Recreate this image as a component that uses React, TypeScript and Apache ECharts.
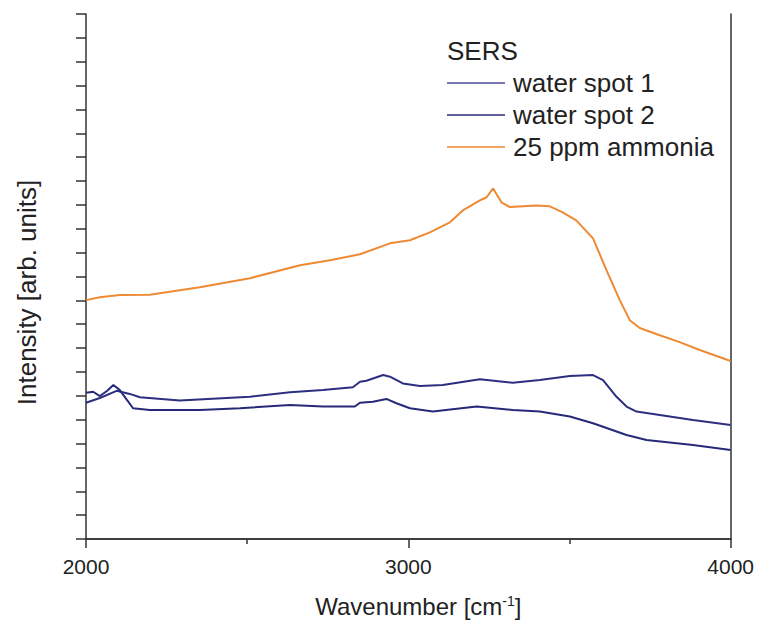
import React, { useEffect, useRef } from "react";
import * as echarts from "echarts";

// Wavenumber [cm^-1] for each read point
const spot1X = [2000, 2043, 2095, 2136, 2167, 2291, 2509, 2633, 2735, 2828, 2850, 2870, 2922, 2943, 2983, 3036, 3107, 3222, 3324, 3408, 3501, 3573, 3604, 3646, 3677, 3708, 3780, 3883, 4000];
const spot1Y = [5.71, 5.91, 6.21, 6.08, 5.94, 5.8, 5.96, 6.15, 6.24, 6.36, 6.59, 6.63, 6.87, 6.8, 6.52, 6.41, 6.45, 6.69, 6.55, 6.66, 6.83, 6.87, 6.66, 5.96, 5.55, 5.34, 5.2, 4.99, 4.78];

const spot2X = [2000, 2022, 2043, 2065, 2085, 2105, 2127, 2146, 2198, 2353, 2478, 2633, 2735, 2834, 2850, 2890, 2932, 2963, 3005, 3076, 3212, 3324, 3408, 3501, 3573, 3677, 3739, 3883, 4000];
const spot2Y = [6.13, 6.17, 5.99, 6.2, 6.45, 6.24, 5.83, 5.48, 5.41, 5.41, 5.48, 5.62, 5.55, 5.55, 5.71, 5.75, 5.87, 5.69, 5.48, 5.34, 5.55, 5.41, 5.34, 5.13, 4.85, 4.36, 4.15, 3.94, 3.73];

const ammoniaX = [2000, 2043, 2105, 2198, 2353, 2509, 2664, 2757, 2850, 2943, 3005, 3067, 3129, 3169, 3222, 3243, 3263, 3289, 3315, 3398, 3439, 3479, 3521, 3573, 3615, 3656, 3687, 3718, 3780, 3842, 3904, 4000];
const ammoniaY = [10.01, 10.13, 10.22, 10.24, 10.55, 10.93, 11.47, 11.68, 11.93, 12.39, 12.52, 12.85, 13.27, 13.77, 14.19, 14.32, 14.69, 14.11, 13.91, 13.98, 13.94, 13.69, 13.35, 12.6, 11.26, 10.01, 9.17, 8.84, 8.54, 8.25, 7.92, 7.46];

const seriesNames = ["water spot 1", "water spot 2", "25 ppm ammonia"];
const xTickLabels = ["2000", "3000", "4000"];

const pair = (xs: number[], ys: number[]) => xs.map((x, i) => [x, ys[i]]);

export default function App() {
  const ref = useRef<HTMLDivElement>(null);
  useEffect(() => {
    if (!ref.current) return;
    const chart = echarts.init(ref.current, undefined, { renderer: "svg" });
    const font = "Liberation Sans";
    const axisColor = "#333";
    chart.setOption({
      animation: false,
      backgroundColor: "#fff",
      textStyle: { fontFamily: font },
      title: {
        text: "SERS",
        left: 442,
        top: 33,
        textStyle: { fontFamily: font, fontSize: 26, fontWeight: "normal", color: "#222" },
      },
      legend: {
        orient: "vertical",
        left: 442,
        top: 62,
        icon: "rect",
        itemWidth: 58,
        itemHeight: 1.5,
        itemGap: 0,
        textStyle: { fontFamily: font, fontSize: 26, color: "#222", lineHeight: 32, padding: [0, 0, 0, 3] },
        data: seriesNames,
      },
      grid: { left: 86, right: 26, top: 14, bottom: 85 },
      xAxis: [
        {
          type: "value",
          min: 2000,
          max: 4000,
          interval: 1000,
          position: "bottom",
          axisLine: { show: true, lineStyle: { color: axisColor, width: 1.5 } },
          axisTick: { show: true, inside: false, length: 9, lineStyle: { color: axisColor, width: 1.5 } },
          minorTick: { show: true, splitNumber: 2, length: 5, lineStyle: { color: axisColor, width: 1.5 } },
          splitLine: { show: false },
          axisLabel: {
            fontFamily: font,
            fontSize: 21,
            color: "#222",
            margin: 17,
            formatter: (v: number) => (xTickLabels.includes(String(v)) ? String(v) : ""),
          },
          name: "{a|Wavenumber [cm}{s|-1}{a|]}",
          nameLocation: "middle",
          nameGap: 55,
          nameTextStyle: {
            padding: [0, 0, 0, 20],
            rich: {
              a: { fontFamily: font, fontSize: 24, color: "#222" },
              s: { fontFamily: font, fontSize: 14, color: "#222", verticalAlign: "top", padding: [0, 0, 10, 0] },
            },
          },
        },
        {
          type: "value",
          min: 2000,
          max: 4000,
          position: "top",
          axisLine: { show: true, lineStyle: { color: axisColor, width: 1.5 } },
          axisTick: { show: false },
          axisLabel: { show: false },
          splitLine: { show: false },
        },
      ],
      yAxis: [
        {
          type: "value",
          min: 0,
          max: 22,
          interval: 1,
          axisLine: { show: true, lineStyle: { color: axisColor, width: 1.5 } },
          axisTick: { show: true, inside: false, length: 10, lineStyle: { color: axisColor, width: 1.5 } },
          axisLabel: { show: false },
          splitLine: { show: false },
          name: "Intensity [arb. units]",
          nameLocation: "middle",
          nameGap: 46,
          nameTextStyle: { fontFamily: font, fontSize: 26, color: "#222", padding: [0, 32, 0, 0] },
        },
        {
          type: "value",
          min: 0,
          max: 22,
          position: "right",
          axisLine: { show: true, lineStyle: { color: axisColor, width: 1.5 } },
          axisTick: { show: false },
          axisLabel: { show: false },
          splitLine: { show: false },
        },
      ],
      series: [
        {
          name: seriesNames[0],
          type: "line",
          data: pair(spot1X, spot1Y),
          showSymbol: false,
          color: "#4a4d94",
          lineStyle: { width: 2, color: "#2c2f80" },
        },
        {
          name: seriesNames[1],
          type: "line",
          data: pair(spot2X, spot2Y),
          showSymbol: false,
          color: "#262a78",
          lineStyle: { width: 2, color: "#262a78" },
        },
        {
          name: seriesNames[2],
          type: "line",
          data: pair(ammoniaX, ammoniaY),
          showSymbol: false,
          color: "#ee8a34",
          lineStyle: { width: 2, color: "#ee8a34" },
        },
      ],
    });
    return () => chart.dispose();
  }, []);
  return <div ref={ref} style={{ position: "fixed", left: 0, top: 0, width: 757, height: 624 }} />;
}
